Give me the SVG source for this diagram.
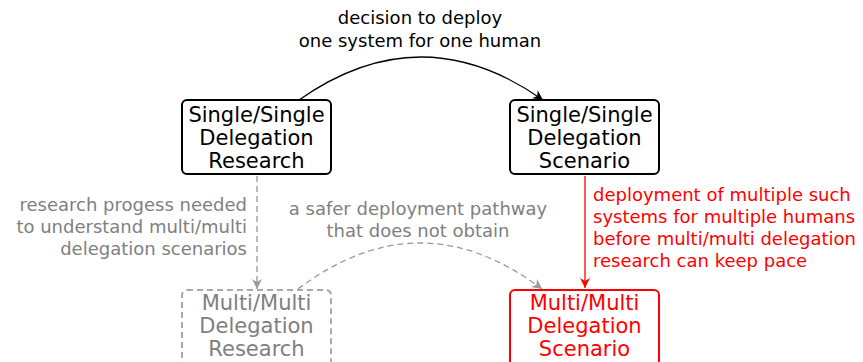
<svg xmlns="http://www.w3.org/2000/svg" width="863" height="362" viewBox="0 0 863 362">
<style>
text{font-family:"DejaVu Sans","Verdana",sans-serif;}
.box{fill:#fff;stroke-width:2;}
.bt{font-size:21px;text-anchor:middle;}
.lbl{font-size:18px;}
</style>
<defs>
<marker id="ab" viewBox="0 0 10 10" refX="10" refY="5" markerWidth="11" markerHeight="10" markerUnits="userSpaceOnUse" orient="auto"><path d="M0,0 L10,5 L0,10 L3,5 z" fill="#000"/></marker>
<marker id="ag" viewBox="0 0 10 10" refX="10" refY="5" markerWidth="11" markerHeight="10" markerUnits="userSpaceOnUse" orient="auto"><path d="M0,0 L10,5 L0,10 L3,5 z" fill="#999"/></marker>
<marker id="ar" viewBox="0 0 10 10" refX="10" refY="5" markerWidth="11" markerHeight="10" markerUnits="userSpaceOnUse" orient="auto"><path d="M0,0 L10,5 L0,10 L3,5 z" fill="#f00"/></marker>
</defs>
<rect width="863" height="362" fill="#fff"/>
<g id="connectors" fill="none">
<path d="M299,100 Q421,14 543,100" stroke="#000" stroke-width="1.3" marker-end="url(#ab)"/>
<path d="M257,176 L257,289" stroke="#999" stroke-width="1.3" stroke-dasharray="6,4" marker-end="url(#ag)"/>
<path d="M298,289 Q420,197 542,289" stroke="#999" stroke-width="1.3" stroke-dasharray="6,4" marker-end="url(#ag)"/>
<path d="M585,176 L585,288" stroke="#f00" stroke-width="1.3" marker-end="url(#ar)"/>
</g>
<g id="label-top" text-anchor="middle" fill="#000">
<text x="420" y="24" class="lbl">decision to deploy</text>
<text x="420" y="47" class="lbl">one system for one human</text>
</g>
<g id="label-left" text-anchor="end" fill="#808080">
<text x="247" y="211" class="lbl">research progess needed</text>
<text x="247" y="233" class="lbl">to understand multi/multi</text>
<text x="247" y="255" class="lbl">delegation scenarios</text>
</g>
<g id="label-mid" text-anchor="middle" fill="#808080">
<text x="418" y="215" class="lbl">a safer deployment pathway</text>
<text x="418" y="237" class="lbl">that does not obtain</text>
</g>
<g id="label-right" fill="#f00">
<text x="593" y="201" class="lbl">deployment of multiple such</text>
<text x="593" y="223" class="lbl">systems for multiple humans</text>
<text x="593" y="245" class="lbl">before multi/multi delegation</text>
<text x="593" y="267" class="lbl">research can keep pace</text>
</g>
<g id="node-ss-research">
<rect class="box" x="182" y="100" width="149" height="74" rx="5" stroke="#000"/>
<text class="bt" x="256.5" y="122">Single/Single</text>
<text class="bt" x="256.5" y="145">Delegation</text>
<text class="bt" x="256.5" y="168">Research</text>
</g>
<g id="node-ss-scenario">
<rect class="box" x="510" y="100" width="149" height="74" rx="5" stroke="#000"/>
<text class="bt" x="584.5" y="122">Single/Single</text>
<text class="bt" x="584.5" y="145">Delegation</text>
<text class="bt" x="584.5" y="168">Scenario</text>
</g>
<g id="node-mm-research">
<rect class="box" x="182" y="290" width="149" height="76" rx="5" stroke="#aaa" stroke-width="1.3" stroke-dasharray="6,4"/>
<text class="bt" x="256.5" y="310" fill="#808080">Multi/Multi</text>
<text class="bt" x="256.5" y="333" fill="#808080">Delegation</text>
<text class="bt" x="256.5" y="356" fill="#808080">Research</text>
</g>
<g id="node-mm-scenario">
<rect class="box" x="510" y="290" width="149" height="76" rx="5" stroke="#f00"/>
<text class="bt" x="584.5" y="310" fill="#f00">Multi/Multi</text>
<text class="bt" x="584.5" y="333" fill="#f00">Delegation</text>
<text class="bt" x="584.5" y="356" fill="#f00">Scenario</text>
</g>
</svg>
